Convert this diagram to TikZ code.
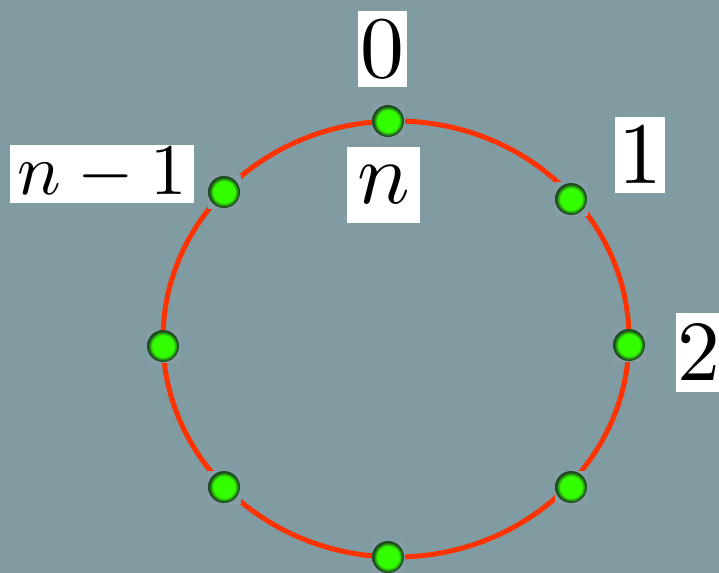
\documentclass[tikz,border=0pt]{standalone}
\usepackage{graphicx}
\definecolor{bgcol}{HTML}{809BA1}
\definecolor{patchcol}{HTML}{879EA6}
\definecolor{ringred}{HTML}{FF3300}
\definecolor{dotgreen}{HTML}{33FF00}
\definecolor{dotrim}{HTML}{1E4A22}
\pgfdeclareradialshading{greenball}{\pgfpoint{0bp}{0bp}}{color(0bp)=(dotgreen); color(17bp)=(dotgreen); color(23bp)=(dotrim); color(25bp)=(dotrim); color(50bp)=(dotrim)}
\newcommand{\biglbl}[2]{\scalebox{#1}{$#2$}}
\tikzset{
  lbl/.style={fill=white,inner sep=0pt,minimum height=76bp},
  site/.style={circle,minimum size=32bp,inner sep=0pt,shading=greenball}
}
\begin{document}
\begin{tikzpicture}[x=1bp,y=-1bp]
 \fill[bgcol] (0,0) rectangle (719,573);
 \useasboundingbox (0,0) rectangle (719,573);
 \draw[ringred,line width=5bp] (396,339) ellipse [x radius=233, y radius=218];
 \foreach \name/\px/\py in {p0/388/121,p1/571/199,p2/629/345,p3/571/487,p4/388/557,p5/224/487,p6/163/346,p7/224/192} {
  \fill[patchcol] (\px-16.5,\py-16.5) rectangle (\px+16.5,\py+16.5);
  \node[site] (\name) at (\px,\py) {};
 }
 \node[lbl,minimum width=49bp] (l0) at (382.5,49) {\biglbl{8.8}{0}};
 \node[lbl,minimum width=73bp] (ln) at (383.5,185) {\biglbl{8.8}{n}};
 \node[lbl,minimum width=50bp] (l1) at (640,155) {\biglbl{8.8}{1}};
 \node[lbl,minimum width=46bp,minimum height=79bp] (l2) at (699,352.5) {\biglbl{8.6}{2}};
 \node[lbl,minimum width=184bp,minimum height=58bp] (lnm) at (102,174) {\biglbl{7.3}{n-1}};
\end{tikzpicture}
\end{document}
